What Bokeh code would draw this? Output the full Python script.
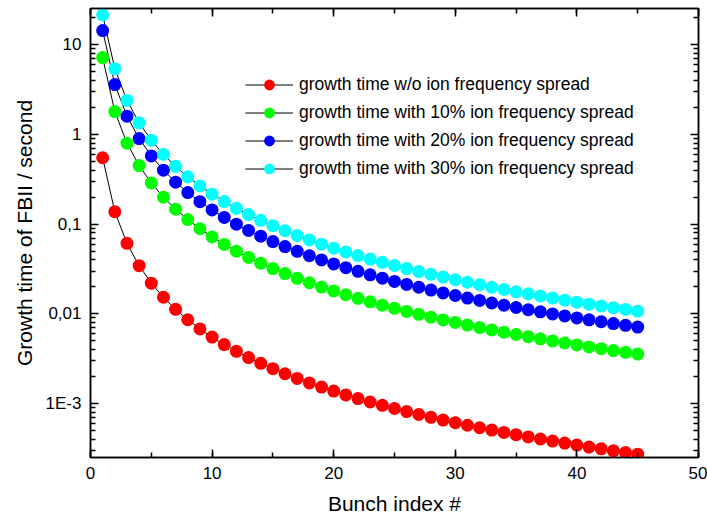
from bokeh.plotting import figure
from bokeh.models import (LinearAxis, LogAxis, FixedTicker, SingleIntervalTicker, Range1d,
                          Legend, LegendItem, CustomJSTickFormatter, ColumnDataSource)
from bokeh.embed import file_html
from bokeh.resources import INLINE

bunch = list(range(1, 46))

growth_no_spread = [0.55, 0.1375, 0.0611, 0.0344, 0.022, 0.0153, 0.01122, 0.00859, 0.00679, 0.0055,
                    0.004545, 0.00382, 0.003254, 0.002806, 0.002444, 0.002148, 0.001903, 0.001697, 0.001524, 0.001375,
                    0.001247, 0.001136, 0.00104, 0.000955, 0.00088, 0.000813, 0.000754, 0.000702, 0.000654, 0.000611,
                    0.000572, 0.000537, 0.000505, 0.000476, 0.000449, 0.000424, 0.000402, 0.000381, 0.000362, 0.000344,
                    0.000327, 0.000312, 0.000297, 0.000284, 0.000272]
growth_10 = [7.2, 1.8, 0.8, 0.45, 0.288, 0.2, 0.147, 0.1125, 0.0889, 0.072,
             0.0595, 0.05, 0.0426, 0.0367, 0.032, 0.0281, 0.0249, 0.0222, 0.0199, 0.018,
             0.01633, 0.01488, 0.01361, 0.0125, 0.01152, 0.01065, 0.00988, 0.00918, 0.00856, 0.008,
             0.00749, 0.00703, 0.00661, 0.00623, 0.00588, 0.00556, 0.00526, 0.00499, 0.00473, 0.0045,
             0.00428, 0.00408, 0.00389, 0.00372, 0.00356]
growth_20 = [14.4, 3.6, 1.6, 0.9, 0.576, 0.4, 0.294, 0.225, 0.178, 0.144,
             0.119, 0.1, 0.0852, 0.0735, 0.064, 0.0563, 0.0498, 0.0444, 0.0399, 0.036,
             0.0327, 0.0298, 0.0272, 0.025, 0.023, 0.0213, 0.0198, 0.0184, 0.0171, 0.016,
             0.015, 0.0141, 0.0132, 0.01246, 0.01176, 0.01111, 0.01052, 0.00997, 0.00947, 0.009,
             0.00857, 0.00816, 0.00779, 0.00744, 0.00711]
growth_30 = [21.6, 5.4, 2.4, 1.35, 0.864, 0.6, 0.441, 0.3375, 0.267, 0.216,
             0.1785, 0.15, 0.1278, 0.1102, 0.096, 0.0844, 0.0747, 0.0667, 0.0598, 0.054,
             0.049, 0.0446, 0.0408, 0.0375, 0.0346, 0.032, 0.0296, 0.0276, 0.0257, 0.024,
             0.0225, 0.0211, 0.0198, 0.0187, 0.0176, 0.0167, 0.0158, 0.015, 0.0142, 0.0135,
             0.0128, 0.0122, 0.0117, 0.0112, 0.0107]

series_labels = ["growth time w/o ion frequency spread",
                 "growth time with 10% ion frequency spread",
                 "growth time with 20% ion frequency spread",
                 "growth time with 30% ion frequency spread"]
series_colors = ["#FF0000", "#00FF00", "#0000FF", "#00FFFF"]

y_tick_values = [0.001, 0.01, 0.1, 1, 10]
y_tick_labels = ["1E-3", "0,01", "0,1", "1", "10"]
y_minor_ticks = [m * 10.0 ** k for k in range(-4, 2) for m in range(2, 10)]

FONT = "Liberation Sans"

p = figure(width=707, height=522, y_axis_type="log",
           x_range=Range1d(0, 50), y_range=Range1d(2.5e-4, 25.4),
           output_backend="svg", toolbar_location=None,
           min_border_left=90, min_border_right=9, min_border_top=8, min_border_bottom=65,
           background_fill_color="white", border_fill_color="white")
p.grid.visible = False
p.outline_line_color = "black"
p.outline_line_width = 1.5

data = [growth_no_spread, growth_10, growth_20, growth_30]
line_rs, dot_rs = [], []
for ys in data:
    src = ColumnDataSource(dict(x=bunch, y=ys))
    line_rs.append(p.line("x", "y", source=src, line_color="black", line_width=1))
for ys, c in zip(data, series_colors):
    src = ColumnDataSource(dict(x=bunch, y=ys))
    dot_rs.append(p.scatter("x", "y", source=src, size=13, fill_color=c, line_color=None))

y_fmt = CustomJSTickFormatter(args=dict(vals=y_tick_values, labs=y_tick_labels), code="""
let best = 0, d = Infinity;
for (let i = 0; i < vals.length; i++) {
  const dd = Math.abs(Math.log10(tick) - Math.log10(vals[i]));
  if (dd < d) { d = dd; best = i; }
}
return labs[best];
""")

def style_axis(ax, show_labels):
    ax.axis_line_width = 1.5
    ax.axis_line_color = "black"
    ax.major_tick_in = 8
    ax.major_tick_out = 0
    ax.minor_tick_in = 5
    ax.minor_tick_out = 0
    ax.major_tick_line_width = 1.5
    ax.minor_tick_line_width = 1.5
    ax.major_tick_line_color = "black"
    ax.minor_tick_line_color = "black"
    ax.major_label_text_font = FONT
    if show_labels:
        ax.major_label_text_color = "black"
        ax.major_label_text_font_size = "17px"
        ax.major_label_standoff = 9
    else:
        ax.major_label_text_color = None
        ax.major_label_text_font_size = "1px"
        ax.major_label_standoff = 0

xb = p.xaxis[0]
xb.ticker = SingleIntervalTicker(interval=10, num_minor_ticks=2)
style_axis(xb, True)
xb.axis_label = "Bunch index #"
xb.axis_label_text_font = FONT
xb.axis_label_text_font_size = "21px"
xb.axis_label_text_font_style = "normal"
xb.axis_label_text_color = "black"
xb.axis_label_standoff = 10

yl = p.yaxis[0]
yl.ticker = FixedTicker(ticks=y_tick_values, minor_ticks=y_minor_ticks)
yl.formatter = y_fmt
style_axis(yl, True)
yl.axis_label = "Growth time of FBII / second"
yl.axis_label_text_font = FONT
yl.axis_label_text_font_size = "21px"
yl.axis_label_text_font_style = "normal"
yl.axis_label_text_color = "black"
yl.axis_label_standoff = 7

xt = LinearAxis(ticker=SingleIntervalTicker(interval=10, num_minor_ticks=2))
style_axis(xt, False)
p.add_layout(xt, "above")

yr = LogAxis(ticker=FixedTicker(ticks=y_tick_values, minor_ticks=y_minor_ticks))
style_axis(yr, False)
p.add_layout(yr, "right")

legend = Legend(items=[LegendItem(label=lab, renderers=[lr, dr])
                       for lab, lr, dr in zip(series_labels, line_rs, dot_rs)],
                location=(155, 275), padding=0, margin=0, spacing=1,
                glyph_width=48, glyph_height=27, label_height=27, label_standoff=6,
                border_line_color=None, background_fill_alpha=0,
                label_text_font=FONT, label_text_font_size="17.5px", label_text_color="black")
p.add_layout(legend)

open("out.html", "w").write(file_html(p, INLINE))
